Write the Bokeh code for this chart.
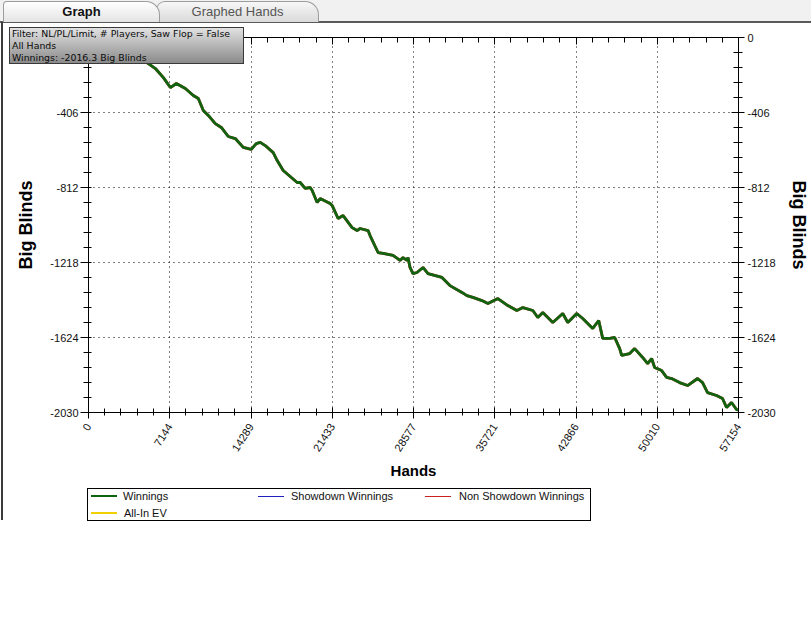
import numpy as np
from bokeh.plotting import figure
from bokeh.layouts import column
from bokeh.models import (Range1d, LinearAxis, FixedTicker, ColumnDataSource, Div)
from bokeh.embed import file_html
from bokeh.resources import INLINE

# ---------------- data ----------------
hands = [0, 1054, 2370, 3687, 5268, 5882, 6585, 7199, 7726, 8516,
         9218, 9657, 10096, 10535, 11150, 11677, 12291, 12906, 13608, 14311,
         14750, 15101, 15540, 16242, 16593, 17120, 18349, 18612, 19052, 19490,
         19666, 20105, 20368, 21246, 21422, 21949, 22388, 23178, 23617, 23880,
         24583, 24758, 25461, 25900, 26778, 27392, 27656, 28007, 28094, 28270,
         28533, 28884, 29411, 29850, 31079, 31782, 32835, 33274, 33801, 34591,
         35118, 35996, 36874, 37664, 38191, 39069, 39508, 39947, 40825, 41703,
         42142, 42932, 43459, 44337, 44863, 45214, 45829, 46268, 46707, 46882,
         47585, 48024, 48726, 49165, 49516, 49780, 50395, 50834, 51273, 51975,
         52677, 53555, 53994, 54433, 55223, 55750, 56101, 56540, 56979, 57154]
winnings = [0, -27, -54, -87, -141, -168, -217, -271, -249, -276,
            -314, -330, -395, -422, -466, -487, -536, -547, -595, -606,
            -574, -568, -585, -623, -666, -720, -785, -785, -817, -812,
            -828, -893, -872, -899, -909, -980, -964, -1029, -1045, -1034,
            -1045, -1072, -1164, -1169, -1180, -1207, -1191, -1207, -1191, -1245,
            -1278, -1272, -1245, -1278, -1299, -1343, -1380, -1397, -1407, -1424,
            -1440, -1413, -1451, -1478, -1462, -1478, -1516, -1489, -1543, -1494,
            -1543, -1494, -1521, -1575, -1532, -1629, -1629, -1624, -1684, -1721,
            -1711, -1684, -1732, -1765, -1738, -1786, -1803, -1840, -1846, -1868,
            -1884, -1846, -1868, -1922, -1938, -1954, -2003, -1976, -2014, -2016.3]
non_showdown = winnings
showdown_x, showdown_y = [], []
allin_x, allin_y = [], []

x_ticks = [0, 7144, 14289, 21433, 28577, 35721, 42866, 50010, 57154]
x_labels = ["0", "7144", "14289", "21433", "28577", "35721", "42866", "50010", "57154"]
y_ticks = [0, -406, -812, -1218, -1624, -2030]
y_labels = ["0", "-406", "-812", "-1218", "-1624", "-2030"]

series_names = ["Winnings", "Showdown Winnings", "Non Showdown Winnings", "All-In EV"]
series_colors = ["#106410", "#2020c0", "#cc2020", "#f0d000"]
tab_names = ["Graph", "Graphed Hands"]
info_lines = ["Filter: NL/PL/Limit, # Players, Saw Flop = False",
              "All Hands",
              "Winnings: -2016.3 Big Blinds"]


def minors(ticks):
    t = np.array(sorted(ticks), dtype=float)
    out = []
    for a, b in zip(t[:-1], t[1:]):
        out += list(a + (b - a) * np.arange(1, 5) / 5.0)
    return out


FONT = "Liberation Sans"
W, H = 811, 619
FL, FT, FR, FB = 88, 37, 739, 412

p = figure(width=W, height=H, output_backend="svg", toolbar_location=None,
           x_range=Range1d(0, 57154), y_range=Range1d(-2030, 0),
           x_axis_location=None, y_axis_location=None,
           min_border_left=FL, min_border_right=W - FR, min_border_top=FT,
           min_border_bottom=H - FB,
           background_fill_color="white", border_fill_color="white",
           outline_line_color=None)

# grids
for g, tk in ((p.xgrid, x_ticks), (p.ygrid, y_ticks)):
    g.ticker = FixedTicker(ticks=tk)
    g.grid_line_color = "black"
    g.grid_line_dash = "1 4"
    g.grid_line_width = 1


def style_axis(ax, tick_in, tick_out, minor_in, minor_out):
    ax.axis_line_color = "black"
    ax.axis_line_width = 1
    ax.major_tick_line_color = "black"
    ax.minor_tick_line_color = "black"
    ax.major_tick_in = tick_in
    ax.major_tick_out = tick_out
    ax.minor_tick_in = minor_in
    ax.minor_tick_out = minor_out
    ax.major_label_text_font = FONT
    ax.major_label_text_font_size = "11px"
    ax.major_label_text_color = "#111111"
    ax.axis_label_text_font = FONT
    ax.axis_label_text_font_style = "bold"
    ax.axis_label_text_color = "black"


xo = {t: l for t, l in zip(x_ticks, x_labels)}
yo = {t: l for t, l in zip(y_ticks, y_labels)}

xb = LinearAxis(ticker=FixedTicker(ticks=x_ticks, minor_ticks=minors(x_ticks)),
                major_label_overrides=xo, axis_label="Hands")
style_axis(xb, 5, 6, 4, 3)
xb.major_label_orientation = 1.0
xb.major_label_standoff = 6
xb.axis_label_standoff = 4
xb.axis_label_text_font_size = "15px"
p.add_layout(xb, "below")

# top frame edge: ticks only, no labels
xt = LinearAxis(ticker=FixedTicker(ticks=x_ticks, minor_ticks=minors(x_ticks)))
style_axis(xt, 7, 0, 5, 0)
xt.major_label_text_color = None
xt.major_label_standoff = 0
p.add_layout(xt, "above")

yl = LinearAxis(ticker=FixedTicker(ticks=y_ticks, minor_ticks=minors(y_ticks)),
                major_label_overrides=yo, axis_label="Big Blinds")
style_axis(yl, 3, 8, 3, 5)
yl.major_label_standoff = 2
yl.axis_label_standoff = 11
yl.axis_label_text_font_size = "18px"
p.add_layout(yl, "left")

yr = LinearAxis(ticker=FixedTicker(ticks=y_ticks, minor_ticks=minors(y_ticks)),
                major_label_overrides=yo, axis_label="Big Blinds")
style_axis(yr, 7, 6, 5, 4)
yr.major_label_standoff = 3
yr.axis_label_standoff = 10
yr.axis_label_text_font_size = "18px"
p.add_layout(yr, "right")

# series
src = ColumnDataSource(dict(x=hands, w=winnings, n=non_showdown))
r_nsd = p.line("x", "n", source=src, line_color=series_colors[2], line_width=2.8)
r_win = p.line("x", "w", source=src, line_color=series_colors[0], line_width=2.8)
r_sd = p.line(showdown_x, showdown_y, line_color=series_colors[1], line_width=1)
r_ev = p.line(allin_x, allin_y, line_color=series_colors[3], line_width=2)

# ---- HTML overlay (window chrome, info box, legend), drawn over the canvas ----
OY = -H  # overlay host sits just below the figure


def at(x, y, w, h, style, inner=""):
    return (f'<div style="position:absolute;left:{x}px;top:{y + OY}px;width:{w}px;'
            f'height:{h}px;box-sizing:border-box;{style}">{inner}</div>')


tab_txt = "display:flex;align-items:center;justify-content:center;font-size:13px;"
info_txt = "".join(f'<div style="height:12px;line-height:12px;white-space:nowrap">{t}</div>'
                   for t in info_lines)

parts = [
    at(0, 0, W, 23, "background:#f1f1f1;border-bottom:2px solid #5a5a5a;"),
    at(156, 1, 163, 21, "background:linear-gradient(#f7f7f7,#dadada);"
       "border:1px solid #9c9c9c;border-bottom:none;border-radius:9px 14px 0 0;"
       "color:#555;font-family:'Liberation Sans';" + tab_txt, tab_names[1]),
    at(3, 1, 157, 21, "background:linear-gradient(#ffffff,#e4e4e4);"
       "border:1px solid #9c9c9c;border-bottom:none;border-radius:4px 14px 0 0;"
       "color:#111;font-weight:bold;font-family:'Liberation Sans';" + tab_txt, tab_names[0]),
    at(1, 22, 2, 498, "background:#3c3c3c;"),
    at(9, 27, 235, 37, "background:linear-gradient(#e2e2e2,#8a8a8a);"
       "border:1px solid #3a3a3a;padding:0 0 0 2px;color:#0a0a0a;"
       "font-family:'DejaVu Sans';font-size:9.4px;", info_txt),
    at(87, 488, 504, 33, "background:#ffffff;border:1px solid #000000;"),
]
# legend entries: (line x, row y, text x, line width)
leg_pos = [(91, 496, 123, 2.5), (258, 496, 291, 1), (425, 496, 459, 1), (91, 513, 124, 2.5)]
for name, col, (lx, ly, tx, lw) in zip(series_names, series_colors, leg_pos):
    parts.append(at(lx, ly - lw / 2, 26, lw, f"background:{col};"))
    parts.append(at(tx, ly - 7, 160, 14,
                    "font-family:'Liberation Sans';font-size:11px;line-height:14px;"
                    "color:#111;white-space:nowrap;", name))

overlay = Div(text="".join(parts), width=W, height=0, margin=0,
              styles={"position": "relative", "overflow": "visible", "z-index": "10"})

layout = column(p, overlay, spacing=0)
open("out.html", "w").write(file_html(layout, INLINE))
